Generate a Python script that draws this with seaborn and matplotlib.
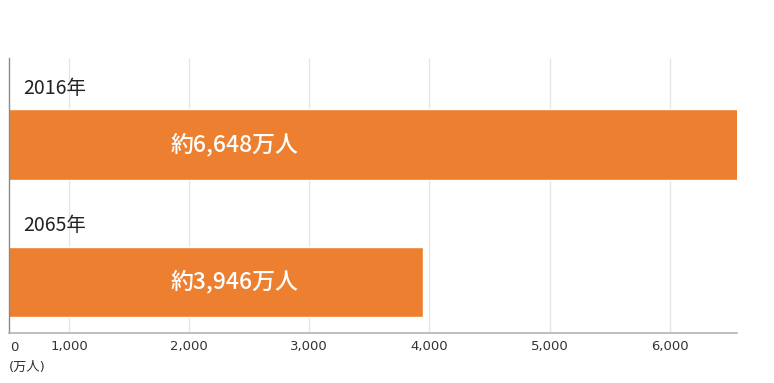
import pandas as pd
import matplotlib
matplotlib.use("Agg")
import matplotlib.pyplot as plt
import matplotlib.transforms as mtransforms
import seaborn as sns

# datos
years = ["2016年", "2065年"]
population = [6648, 3946]  # 万人
tick_values = [1000, 2000, 3000, 4000, 5000, 6000]
tick_labels = ["1,000", "2,000", "3,000", "4,000", "5,000", "6,000"]

df = pd.DataFrame({"year": years, "pop": population})

sns.set_theme(style="white")
plt.rcParams["font.family"] = ["Noto Sans CJK JP", "DejaVu Sans"]
fam_num = ["DejaVu Sans", "Noto Sans CJK JP"]

fig = plt.figure(figsize=(7.74, 3.83), dpi=100)
ax = fig.add_axes([9 / 774, 50 / 383, 728 / 774, 275 / 383])

sns.barplot(data=df, x="pop", y="year", orient="h", color="#ED7F30",
            saturation=1, width=0.51, ax=ax, zorder=2)

ax.set_xlim(500, 6560)
ax.set_ylim(1.371, -0.629)

ax.set_xticks(tick_values)
ax.set_xticklabels(tick_labels, fontsize=9.5, color="#333333", family=fam_num)
ax.tick_params(axis="x", length=0, pad=5)
ax.set_yticks([])
ax.set_xlabel("")
ax.set_ylabel("")
ax.grid(axis="x", color="#e6e6e6", linewidth=1, zorder=0)
ax.set_axisbelow(True)

for s in ["top", "right"]:
    ax.spines[s].set_visible(False)
ax.spines["bottom"].set_color("#b3b3b3")
ax.spines["bottom"].set_linewidth(1.2)
ax.spines["left"].set_color("#8a8a8a")
ax.spines["left"].set_linewidth(1)

trans = mtransforms.blended_transform_factory(ax.transAxes, ax.transData)
for i, (yr, v) in enumerate(zip(years, population)):
    ax.text(0.019, i - 0.41, yr, transform=trans, fontsize=14,
            color="#222222", ha="left", va="center")
    ax.text(0.31, i, f"約{v:,}万人", transform=trans, fontsize=16.5,
            color="white", ha="center", va="center", fontweight="medium")

ax.text(0.002, -0.03, "0", transform=ax.transAxes, fontsize=9.5,
        color="#333333", ha="left", va="top", family=fam_num)
ax.text(0.0, -0.1, "(万人)", transform=ax.transAxes, fontsize=9.5,
        color="#333333", ha="left", va="top", family=fam_num)

fig.savefig("out.png", dpi=100)
plt.close(fig)
